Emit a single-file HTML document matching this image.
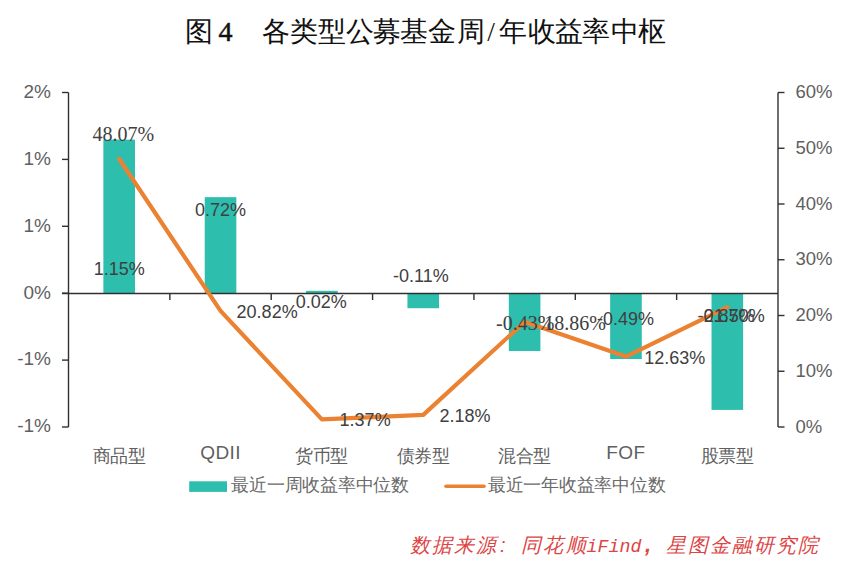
<!DOCTYPE html><html><head><meta charset="utf-8"><style>html,body{margin:0;padding:0;background:#fff;}svg{display:block}</style></head><body>
<svg width="851" height="571" viewBox="0 0 851 571" font-family="'Liberation Sans', sans-serif">
<rect width="851" height="571" fill="#fff"/>
<text font-family="'Liberation Serif', serif" font-size="28" fill="#111" text-anchor="middle" x="225.5" stroke="#111" stroke-width="0.5" y="41">4</text>
<text font-family="'Liberation Serif', serif" font-size="27.5" fill="#111" text-anchor="middle" y="41"><tspan x="198.8">图</tspan><tspan x="275.7">各</tspan><tspan x="303.9">类</tspan><tspan x="331.6">型</tspan><tspan x="359.9">公</tspan><tspan x="387.2">募</tspan><tspan x="413.9">基</tspan><tspan x="442">金</tspan><tspan x="470.5">周</tspan><tspan x="491">/</tspan><tspan x="512.6">年</tspan><tspan x="542">收</tspan><tspan x="569">益</tspan><tspan x="596.3">率</tspan><tspan x="625.2">中</tspan><tspan x="652.3">枢</tspan></text>
<rect x="103.38" y="139.63" width="31.6" height="153.87" fill="#2DBEAE"/>
<rect x="204.74" y="197.16" width="31.6" height="96.34" fill="#2DBEAE"/>
<rect x="306.09" y="290.82" width="31.6" height="2.68" fill="#2DBEAE"/>
<rect x="407.45" y="293.50" width="31.6" height="14.72" fill="#2DBEAE"/>
<rect x="508.81" y="293.50" width="31.6" height="57.53" fill="#2DBEAE"/>
<rect x="610.16" y="293.50" width="31.6" height="65.56" fill="#2DBEAE"/>
<rect x="711.52" y="293.50" width="31.6" height="116.41" fill="#2DBEAE"/>
<g stroke="#303030" stroke-width="1.4" fill="none">
<path d="M68.5 92.5V427"/>
<path d="M62 92.50H68.5"/>
<path d="M62 159.40H68.5"/>
<path d="M62 226.30H68.5"/>
<path d="M62 293.20H68.5"/>
<path d="M62 360.10H68.5"/>
<path d="M62 427.00H68.5"/>
<path d="M778.0 92.5V427"/>
<path d="M778.0 92.50H784.5"/>
<path d="M778.0 148.25H784.5"/>
<path d="M778.0 204.00H784.5"/>
<path d="M778.0 259.75H784.5"/>
<path d="M778.0 315.50H784.5"/>
<path d="M778.0 371.25H784.5"/>
<path d="M778.0 427.00H784.5"/>
<path d="M62 293.5H778.0"/>
<path d="M169.86 293.5V300"/>
<path d="M271.21 293.5V300"/>
<path d="M372.57 293.5V300"/>
<path d="M473.93 293.5V300"/>
<path d="M575.29 293.5V300"/>
<path d="M676.64 293.5V300"/>
</g>
<polyline points="119.18,159.01 220.54,310.93 321.89,419.36 423.25,414.85 524.61,321.86 625.96,356.59 727.32,307.14" fill="none" stroke="#EB8232" stroke-width="4.2" stroke-linejoin="round" stroke-linecap="round"/>
<g font-size="18" fill="#5f5f5f" text-anchor="end">
<text x="51" y="97.80" font-size="19">2%</text>
<text x="51" y="164.70" font-size="19">1%</text>
<text x="51" y="231.60" font-size="19">1%</text>
<text x="51" y="298.50" font-size="19">0%</text>
<text x="51" y="365.40" font-size="19">-1%</text>
<text x="51" y="432.30" font-size="19">-1%</text>
</g>
<g font-size="18" fill="#5f5f5f">
<text x="795.5" y="98.00" font-size="18.5">60%</text>
<text x="795.5" y="153.75" font-size="18.5">50%</text>
<text x="795.5" y="209.50" font-size="18.5">40%</text>
<text x="795.5" y="265.25" font-size="18.5">30%</text>
<text x="795.5" y="321.00" font-size="18.5">20%</text>
<text x="795.5" y="376.75" font-size="18.5">10%</text>
<text x="795.5" y="432.50" font-size="18.5">0%</text>
</g>
<g font-size="18" fill="#404040">
<text font-family="'Liberation Serif', serif" font-size="20" x="92.5" y="140.5">48.07%</text>
<text x="236.6" y="317.9">20.82%</text>
<text x="339.6" y="426.3">1.37%</text>
<text x="439.5" y="422.0">2.18%</text>
<text font-family="'Liberation Serif', serif" font-size="20" x="544.3" y="329.8">18.86%</text>
<text x="644.2" y="363.6">12.63%</text>
<text x="703.8" y="321.7">21.50%</text>
<text x="93.7" y="275.3">1.15%</text>
<text x="194.9" y="215.9">0.72%</text>
<text x="295.8" y="308.0">0.02%</text>
<text x="393.0" y="282.0">-0.11%</text>
<text font-family="'Liberation Serif', serif" font-size="20" x="496.0" y="329.8">-0.43%</text>
<text x="597.0" y="325.3">-0.49%</text>
<text x="697.5" y="321.7">-0.87%</text>
</g>
<g font-size="18" fill="#5f5f5f" text-anchor="middle">
<text y="462"><tspan x="101.68">商</tspan><tspan x="119.18">品</tspan><tspan x="136.68">型</tspan></text>
<text x="220.54" y="459.3" font-size="19" letter-spacing="0.4">QDII</text>
<text y="462"><tspan x="304.39">货</tspan><tspan x="321.89">币</tspan><tspan x="339.39">型</tspan></text>
<text y="462"><tspan x="405.75">债</tspan><tspan x="423.25">券</tspan><tspan x="440.75">型</tspan></text>
<text y="462"><tspan x="507.11">混</tspan><tspan x="524.61">合</tspan><tspan x="542.11">型</tspan></text>
<text x="625.96" y="459.3" font-size="19" letter-spacing="0.4">FOF</text>
<text y="462"><tspan x="709.82">股</tspan><tspan x="727.32">票</tspan><tspan x="744.82">型</tspan></text>
</g>
<rect x="189.2" y="481.3" width="37.8" height="10.6" fill="#2DBEAE"/>
<path d="M446 486.2H484" stroke="#EB8232" stroke-width="3.6" stroke-linecap="round"/>
<g font-size="17.5" fill="#6a6a6a" text-anchor="middle">
<text y="491"><tspan x="240.40">最</tspan><tspan x="258.15">近</tspan><tspan x="275.90">一</tspan><tspan x="293.65">周</tspan><tspan x="311.40">收</tspan><tspan x="329.15">益</tspan><tspan x="346.90">率</tspan><tspan x="364.65">中</tspan><tspan x="382.40">位</tspan><tspan x="400.15">数</tspan></text>
<text y="491"><tspan x="496.90">最</tspan><tspan x="514.65">近</tspan><tspan x="532.40">一</tspan><tspan x="550.15">年</tspan><tspan x="567.90">收</tspan><tspan x="585.65">益</tspan><tspan x="603.40">率</tspan><tspan x="621.15">中</tspan><tspan x="638.90">位</tspan><tspan x="656.65">数</tspan></text>
</g>
<g fill="#DD4444" font-style="italic" font-family="'Liberation Serif', serif" font-size="20" text-anchor="middle">
<text y="552"><tspan x="420">数</tspan><tspan x="442">据</tspan><tspan x="464">来</tspan><tspan x="486">源</tspan><tspan x="530.5">同</tspan><tspan x="553">花</tspan><tspan x="575.5">顺</tspan><tspan x="676">星</tspan><tspan x="698">图</tspan><tspan x="720">金</tspan><tspan x="742">融</tspan><tspan x="764">研</tspan><tspan x="786">究</tspan><tspan x="808">院</tspan></text>
<text y="552" font-family="'Liberation Mono', monospace" font-size="18.3" text-anchor="start" x="586.5">iFind</text>
<text y="552" x="500" text-anchor="start" font-family="'Liberation Sans', sans-serif" font-size="20">:</text>
<text y="552" x="645" text-anchor="start" font-family="'Liberation Sans', sans-serif" font-size="22" font-weight="bold">,</text>
</g>
</svg></body></html>
